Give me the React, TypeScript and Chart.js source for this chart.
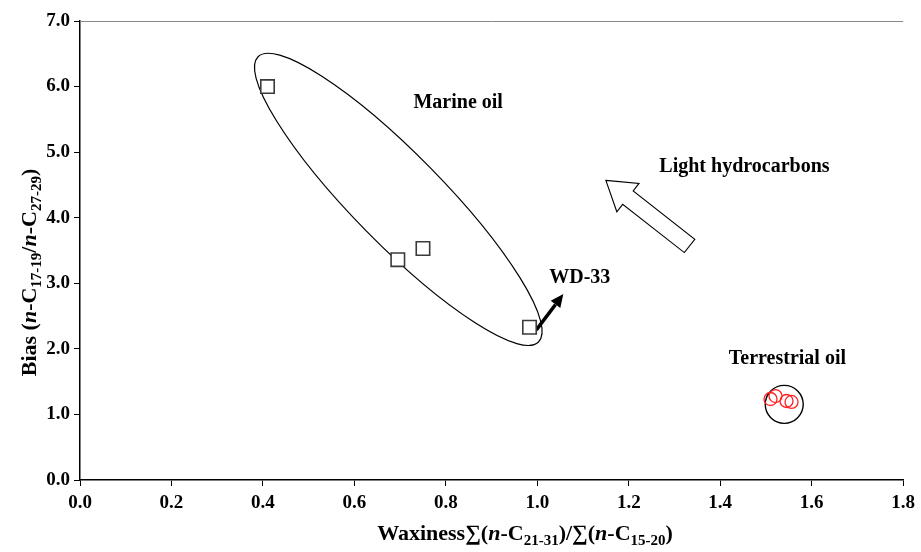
import React, { useEffect, useRef } from 'react';
import { Chart, registerables } from 'chart.js';

Chart.register(...registerables);

// ---- data ----
const marineX = [0.41, 0.695, 0.75, 0.983];
const marineY = [6.0, 3.36, 3.53, 2.33];
const terrX = [1.51, 1.521, 1.545, 1.556];
const terrY = [1.235, 1.28, 1.205, 1.19];
const xTicks = [0, 0.2, 0.4, 0.6, 0.8, 1.0, 1.2, 1.4, 1.6, 1.8];
const yTicks = [0, 1, 2, 3, 4, 5, 6, 7];

// ---- annotations (data units) ----
const labelTexts = ['Marine oil', 'Light hydrocarbons', 'WD-33', 'Terrestrial oil'];
const labelX = [0.827, 1.453, 1.093, 1.547];
const labelY = [5.75, 4.77, 3.09, 1.85];
const marineEllipseCenter = [0.696, 4.28];
const terrCircleCenter = [1.54, 1.154];
const lightArrowTail = [1.333, 3.57];
const lightArrowTip = [1.15, 4.57];
const wdArrowStart = [0.998, 2.29];
const wdArrowEnd = [1.057, 2.835];

const FONT = '"Liberation Serif", "Times New Roman", serif';

type Seg = { t: string; it?: boolean; sub?: boolean };

function drawRich(ctx: CanvasRenderingContext2D, segs: Seg[], x: number, y: number, size: number, rotate: boolean) {
  ctx.save();
  ctx.translate(x, y);
  if (rotate) ctx.rotate(-Math.PI / 2);
  const fontFor = (s: Seg) => `${s.it ? 'italic ' : ''}bold ${s.sub ? Math.round(size * 0.7) : size}px ${FONT}`;
  let w = 0;
  for (const s of segs) {
    ctx.font = fontFor(s);
    w += ctx.measureText(s.t).width;
  }
  let cx = -w / 2;
  ctx.fillStyle = '#000';
  ctx.textBaseline = 'alphabetic';
  ctx.textAlign = 'left';
  const base = size * 0.33;
  for (const s of segs) {
    ctx.font = fontFor(s);
    ctx.fillText(s.t, cx, base + (s.sub ? size * 0.22 : 0));
    cx += ctx.measureText(s.t).width;
  }
  ctx.restore();
}

const yTitle: Seg[] = [
  { t: 'Bias (' }, { t: 'n', it: true }, { t: '-C' }, { t: '17-19', sub: true }, { t: '/' },
  { t: 'n', it: true }, { t: '-C' }, { t: '27-29', sub: true }, { t: ')' },
];
const xTitle: Seg[] = [
  { t: 'Waxiness' }, { t: '∑(' }, { t: 'n', it: true }, { t: '-C' }, { t: '21-31', sub: true }, { t: ')/' },
  { t: '∑(' }, { t: 'n', it: true }, { t: '-C' }, { t: '15-20', sub: true }, { t: ')' },
];

const underlay = {
  id: 'underlay',
  beforeDatasetsDraw(chart: any) {
    const { ctx, chartArea, scales } = chart;
    const sx = scales.x, sy = scales.y;
    ctx.save();
    // top border line
    ctx.strokeStyle = '#888';
    ctx.lineWidth = 1;
    ctx.beginPath();
    ctx.moveTo(chartArea.left, chartArea.top + 0.5);
    ctx.lineTo(chartArea.right, chartArea.top + 0.5);
    ctx.stroke();
    // marine ellipse
    ctx.strokeStyle = '#000';
    ctx.lineWidth = 1.2;
    ctx.beginPath();
    ctx.ellipse(
      sx.getPixelForValue(marineEllipseCenter[0]),
      sy.getPixelForValue(marineEllipseCenter[1]),
      200, 45, (45.5 * Math.PI) / 180, 0, Math.PI * 2
    );
    ctx.stroke();
    // terrestrial circle
    ctx.lineWidth = 1.4;
    ctx.beginPath();
    ctx.arc(sx.getPixelForValue(terrCircleCenter[0]), sy.getPixelForValue(terrCircleCenter[1]), 19, 0, Math.PI * 2);
    ctx.stroke();
    // WD-33 arrow
    const x1 = sx.getPixelForValue(wdArrowStart[0]), y1 = sy.getPixelForValue(wdArrowStart[1]);
    const x2 = sx.getPixelForValue(wdArrowEnd[0]), y2 = sy.getPixelForValue(wdArrowEnd[1]);
    const ang = Math.atan2(y2 - y1, x2 - x1);
    const hl = 13, hw = 6;
    const bx = x2 - hl * Math.cos(ang), by = y2 - hl * Math.sin(ang);
    ctx.lineWidth = 3.5;
    ctx.beginPath();
    ctx.moveTo(x1, y1);
    ctx.lineTo(bx, by);
    ctx.stroke();
    ctx.fillStyle = '#000';
    ctx.beginPath();
    ctx.moveTo(x2, y2);
    ctx.lineTo(bx + hw * Math.sin(ang), by - hw * Math.cos(ang));
    ctx.lineTo(bx - hw * Math.sin(ang), by + hw * Math.cos(ang));
    ctx.closePath();
    ctx.fill();
    // hollow arrow
    const tx = sx.getPixelForValue(lightArrowTail[0]), ty = sy.getPixelForValue(lightArrowTail[1]);
    const px = sx.getPixelForValue(lightArrowTip[0]), py = sy.getPixelForValue(lightArrowTip[1]);
    const a2 = Math.atan2(py - ty, px - tx);
    const ux = Math.cos(a2), uy = Math.sin(a2);
    const nx = -uy, ny = ux;
    const headLen = 28, headHalf = 18, shaftHalf = 8.5;
    const hbx = px - headLen * ux, hby = py - headLen * uy;
    const pts = [
      [px, py],
      [hbx + headHalf * nx, hby + headHalf * ny],
      [hbx + shaftHalf * nx, hby + shaftHalf * ny],
      [tx + shaftHalf * nx, ty + shaftHalf * ny],
      [tx - shaftHalf * nx, ty - shaftHalf * ny],
      [hbx - shaftHalf * nx, hby - shaftHalf * ny],
      [hbx - headHalf * nx, hby - headHalf * ny],
    ];
    ctx.beginPath();
    pts.forEach((p, i) => (i ? ctx.lineTo(p[0], p[1]) : ctx.moveTo(p[0], p[1])));
    ctx.closePath();
    ctx.fillStyle = '#fff';
    ctx.fill();
    ctx.lineWidth = 1.1;
    ctx.strokeStyle = '#000';
    ctx.stroke();
    ctx.restore();
  },
  afterDraw(chart: any) {
    const { ctx, chartArea, scales } = chart;
    const sx = scales.x, sy = scales.y;
    ctx.save();
    ctx.fillStyle = '#000';
    ctx.font = `bold 20px ${FONT}`;
    ctx.textAlign = 'center';
    ctx.textBaseline = 'middle';
    labelTexts.forEach((t, i) => {
      ctx.fillText(t, sx.getPixelForValue(labelX[i]), sy.getPixelForValue(labelY[i]));
    });
    ctx.restore();
    drawRich(ctx, xTitle, 525, 533, 22, false);
    drawRich(ctx, yTitle, 29, (chartArea.top + chartArea.bottom) / 2 + 22, 22, true);
  },
};

export default function App() {
  const ref = useRef<HTMLCanvasElement | null>(null);
  useEffect(() => {
    if (!ref.current) return;
    const tickFont = { family: FONT, size: 19, weight: 'bold' as const };
    const chart = new Chart(ref.current, {
      type: 'scatter',
      data: {
        datasets: [
          {
            label: 'Marine oil',
            data: marineX.map((x, i) => ({ x, y: marineY[i] })),
            pointStyle: 'rect',
            pointRadius: 9.5,
            borderColor: '#3a3a3a',
            borderWidth: 1.6,
            backgroundColor: '#ffffff',
          },
          {
            label: 'Terrestrial oil',
            data: terrX.map((x, i) => ({ x, y: terrY[i] })),
            pointStyle: 'circle',
            pointRadius: 6.5,
            borderColor: '#ff2222',
            borderWidth: 1.3,
            backgroundColor: 'rgba(0,0,0,0)',
          },
        ],
      },
      options: {
        responsive: false,
        animation: false,
        events: [],
        layout: { padding: { top: 21, right: 15, left: 0, bottom: 0 } },
        plugins: { legend: { display: false }, tooltip: { enabled: false } },
        scales: {
          x: {
            type: 'linear',
            min: 0,
            max: 1.8,
            afterBuildTicks: (s: any) => { s.ticks = xTicks.map((v) => ({ value: v })); },
            afterFit: (s: any) => { s.height = 72; },
            grid: { display: true, drawOnChartArea: false, drawTicks: true, tickLength: 6, color: '#000', tickColor: '#000' },
            border: { display: true, color: '#000', width: 1.5 },
            ticks: { font: tickFont, color: '#000', padding: 6, maxRotation: 0, autoSkip: false, callback: (v: any) => Number(v).toFixed(1) },
          },
          y: {
            type: 'linear',
            min: 0,
            max: 7,
            afterBuildTicks: (s: any) => { s.ticks = yTicks.map((v) => ({ value: v })); },
            afterFit: (s: any) => { s.width = 80; },
            grid: { display: true, drawOnChartArea: false, drawTicks: true, tickLength: 6, color: '#000', tickColor: '#000' },
            border: { display: true, color: '#000', width: 1.5 },
            ticks: { font: tickFont, color: '#000', padding: 4, autoSkip: false, callback: (v: any) => Number(v).toFixed(1) },
          },
        },
      },
      plugins: [underlay],
    });
    return () => chart.destroy();
  }, []);
  return (
    <div style={{ position: 'absolute', left: 0, top: 0, width: 921, height: 552, background: '#fff' }}>
      <canvas ref={ref} width={921} height={552} />
    </div>
  );
}
